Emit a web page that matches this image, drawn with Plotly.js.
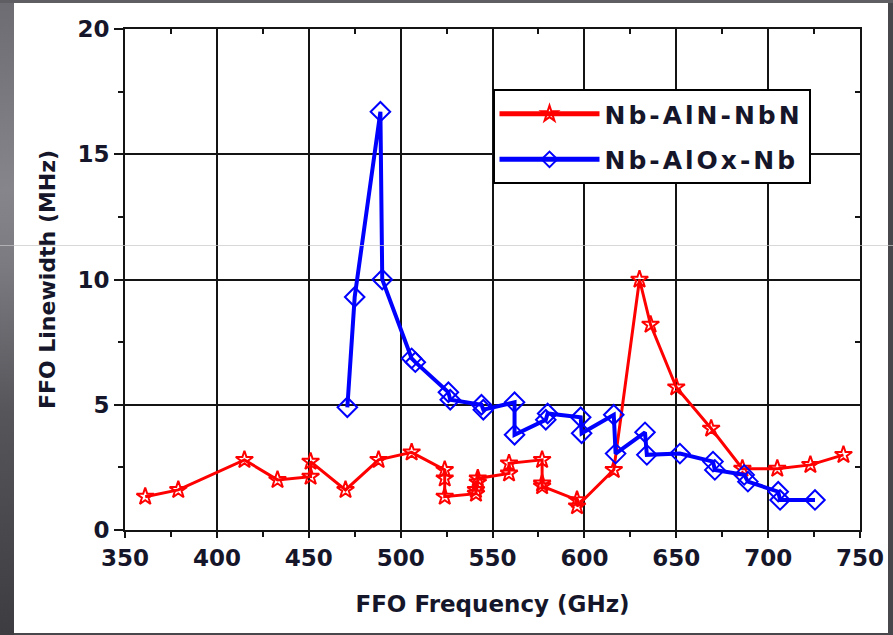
<!DOCTYPE html>
<html><head><meta charset="utf-8">
<script src="https://cdn.plot.ly/plotly-3.0.1.min.js"></script>
<style>
html,body{margin:0;padding:0;width:893px;height:635px;overflow:hidden;}
body{background:#47474c;position:relative;}
#leftstrip{position:absolute;left:0;top:0;width:14px;height:635px;background:linear-gradient(to bottom,#6c6c72 0%,#85858b 30%,#7a7a80 42%,#55555a 65%,#3c3c41 100%);}
#topstrip{position:absolute;left:0;top:0;width:893px;height:3px;background:#5e5e63;}
#chart{position:absolute;left:14px;top:3px;width:874px;height:630px;background:#fff;}
#scan{position:absolute;left:0;top:245px;width:893px;height:1px;background:rgba(200,200,200,0.7);pointer-events:none;}
.legendtext{letter-spacing:3px;}
</style></head>
<body>
<div id="leftstrip"></div><div id="topstrip"></div>
<div id="chart"></div>
<div id="scan"></div>
<script>
// Nb-AlN-NbN (red, stars)
var redFreq = [361, 379, 415, 433, 451, 451, 470, 488, 506, 524, 524, 524, 541, 541, 542, 542, 559, 559, 577, 577, 577, 596, 596, 616, 630, 636, 650, 669, 686, 705, 723, 741];
var redWidth = [1.33, 1.6, 2.8, 2.0, 2.13, 2.73, 1.6, 2.8, 3.1, 2.4, 2.06, 1.33, 1.45, 1.6, 1.9, 2.06, 2.26, 2.66, 2.8, 1.86, 1.75, 1.2, 0.95, 2.4, 10.0, 8.2, 5.7, 4.05, 2.45, 2.45, 2.6, 3.0];
// Nb-AlOx-Nb (blue, diamonds)
var blueFreq = [471, 475, 489, 490, 506, 508, 526, 527, 544, 545, 562, 562, 579, 580, 598, 598.5, 616, 617, 633, 634, 652, 670, 671, 687, 689, 705.5, 706.5, 725.5];
var blueWidth = [4.9, 9.3, 16.7, 10.0, 6.85, 6.7, 5.5, 5.2, 5.0, 4.8, 5.1, 3.8, 4.4, 4.65, 4.5, 3.86, 4.6, 3.05, 3.9, 3.0, 3.05, 2.73, 2.4, 2.2, 1.93, 1.53, 1.2, 1.2];
var seriesNames = ['Nb-AlN-NbN', 'Nb-AlOx-Nb'];
var xTitle = 'FFO Frequency (GHz)';
var yTitle = 'FFO Linewidth (MHz)';

var F = 'DejaVu Sans';
var ink = '#141414';
var lblFont = {family: F, size: 23, weight: 'bold', color: '#16162a'};

var traces = [
  {x: redFreq, y: redWidth, name: seriesNames[0], type: 'scatter', mode: 'lines+markers', legendgroup: 'a',
   line: {color: '#ff0000', width: 3},
   marker: {symbol: 'star-open', size: 13, color: '#ff0000', line: {color: '#ff0000', width: 2}}},
  {x: blueFreq, y: blueWidth, name: seriesNames[1], type: 'scatter', mode: 'lines+markers', legendgroup: 'b',
   line: {color: '#0000ff', width: 4},
   marker: {symbol: 'diamond-open', size: 15, color: '#0000ff', line: {color: '#0000ff', width: 2}}},
  {x: [], y: [], xaxis: 'x2', yaxis: 'y2', showlegend: false, hoverinfo: 'skip', type: 'scatter', mode: 'markers'}
];

var layout = {
  width: 874, height: 630,
  paper_bgcolor: '#ffffff', plot_bgcolor: '#ffffff',
  margin: {l: 111, r: 28, t: 26, b: 103},
  showlegend: true,
  legend: {x: 0.5, y: 0.88, xanchor: 'left', yanchor: 'top', bgcolor: '#ffffff',
           bordercolor: '#000', borderwidth: 2, font: {family: F, size: 25, weight: 'bold', color: '#16162a'},
           itemwidth: 100, itemsizing: 'constant', traceorder: 'grouped', tracegroupgap: 10,
           entrywidth: 340, entrywidthmode: 'pixels'},
  xaxis: {range: [350, 750], tick0: 350, dtick: 50, showgrid: true, gridcolor: ink, gridwidth: 2,
          zeroline: false, showline: true, linecolor: ink, linewidth: 2,
          ticks: 'outside', ticklen: 6, tickwidth: 2, tickcolor: ink,
          minor: {dtick: 25, ticks: 'outside', ticklen: 5, tickwidth: 2, tickcolor: ink, showgrid: false},
          tickfont: lblFont,
          title: {text: xTitle, font: lblFont, standoff: 26}},
  yaxis: {range: [0, 20], tick0: 0, dtick: 5, showgrid: true, gridcolor: ink, gridwidth: 2,
          zeroline: false, showline: true, linecolor: ink, linewidth: 2,
          ticks: 'outside', ticklen: 9, tickwidth: 2, tickcolor: ink,
          minor: {dtick: 2.5, ticks: 'outside', ticklen: 5, tickwidth: 2, tickcolor: ink, showgrid: false},
          tickfont: lblFont,
          title: {text: yTitle, font: {family: F, size: 22, weight: 'bold', color: '#16162a'}, standoff: 16}},
  xaxis2: {overlaying: 'x', side: 'top', anchor: 'y2', range: [350, 750], tick0: 350, dtick: 50,
           showgrid: false, zeroline: false, showline: true, linecolor: ink, linewidth: 2,
           ticks: 'inside', ticklen: 5, tickwidth: 2, tickcolor: ink, showticklabels: false,
           minor: {dtick: 25, ticks: 'inside', ticklen: 5, tickwidth: 2, tickcolor: ink, showgrid: false}},
  yaxis2: {overlaying: 'y', side: 'right', anchor: 'x2', range: [0, 20], tick0: 0, dtick: 5,
           showgrid: false, zeroline: false, showline: true, linecolor: ink, linewidth: 2,
           ticks: 'inside', ticklen: 5, tickwidth: 2, tickcolor: ink, showticklabels: false,
           minor: {dtick: 2.5, ticks: 'inside', ticklen: 5, tickwidth: 2, tickcolor: ink, showgrid: false}}
};

Plotly.newPlot('chart', traces, layout, {displayModeBar: false, staticPlot: true});
</script>
</body></html>
